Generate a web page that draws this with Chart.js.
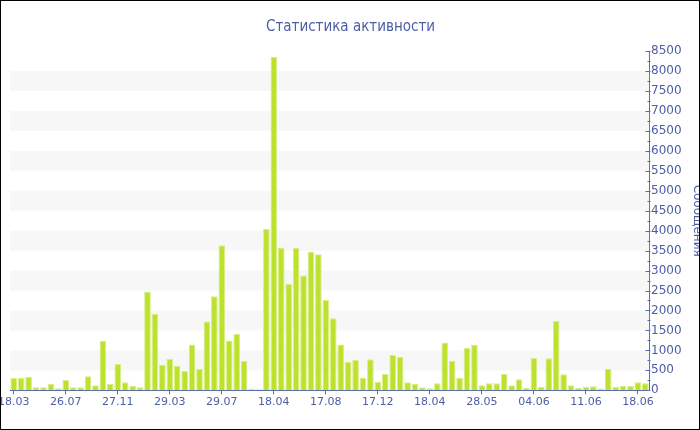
<!DOCTYPE html>
<html>
<head>
    <title>Статистика активности</title>
    <script src="https://cdn.jsdelivr.net/npm/chart.js"></script>
    <style>
        body { margin: 0; background: #fff; }
        #wrap {
            position: relative;
            width: 700px;
            height: 430px;
            border: 1px solid #000;
            box-sizing: border-box;
            overflow: hidden;
        }
        #chart { position: absolute; left: -4px; top: 0; }
    </style>
</head>
<body>
    <div id="wrap">
        <canvas id="chart" width="707" height="428"></canvas>
    </div>

    <script>
        // labels shown under every 7th bar
        const tickLabels = ['18.03', '26.07', '27.11', '29.03', '29.07', '18.04', '17.08',
                            '17.12', '18.04', '28.05', '04.06', '11.06', '18.06'];
        const labelEvery = 7;

        // messages per period
        const messages = [
            308, 308, 342, 75, 75, 167, 50, 258, 75, 75,
            350, 125, 1242, 167, 658, 200, 117, 75, 2475, 1917,
            642, 792, 617, 483, 1150, 542, 1725, 2358, 3633, 1250,
            1417, 733, 33, 25, 4050, 8350, 3575, 2667, 3567, 2875,
            3475, 3408, 2267, 1808, 1150, 708, 758, 317, 775, 217,
            408, 892, 833, 200, 158, 75, 50, 175, 1200, 742,
            308, 1058, 1133, 125, 175, 175, 408, 125, 275, 58,
            817, 83, 800, 1733, 400, 125, 58, 92, 100, 42,
            533, 92, 117, 117, 200, 175
        ];

        const yMax = 8500;
        const yStep = 500;

        const categories = messages.map((_, i) =>
            i % labelEvery === 0 ? tickLabels[i / labelEvery] : '');

        const textColor = '#4b5ea6';
        const axisColor = '#5a6cb2';

        // light grey bands every other 500
        const bands = {
            id: 'bands',
            beforeDatasetsDraw(chart) {
                const {ctx, chartArea, scales: {y}} = chart;
                ctx.save();
                ctx.fillStyle = '#f7f7f7';
                for (let v = yStep; v < yMax; v += 2 * yStep) {
                    const top = y.getPixelForValue(v + yStep);
                    const bottom = y.getPixelForValue(v);
                    ctx.fillRect(chartArea.left, top, chartArea.right - chartArea.left, bottom - top);
                }
                ctx.restore();
            }
        };

        // inward tick marks on the right axis, with minor ones
        const yTicks = {
            id: 'yTicks',
            afterDraw(chart) {
                const {ctx, scales: {y}} = chart;
                const x = Math.round(y.left) + 0.5;
                ctx.save();
                ctx.strokeStyle = axisColor;
                ctx.lineWidth = 1;
                ctx.beginPath();
                for (let v = 0; v <= yMax; v += yStep / 2) {
                    const py = Math.round(y.getPixelForValue(v)) + 0.5;
                    const len = v % yStep === 0 ? 4 : 2;
                    ctx.moveTo(x - len, py);
                    ctx.lineTo(x + 1, py);
                }
                ctx.stroke();
                ctx.restore();
            }
        };

        const chart = new Chart(document.getElementById('chart').getContext('2d'), {
            type: 'bar',
            data: {
                labels: categories,
                datasets: [{
                    label: 'Сообщения',
                    data: messages,
                    backgroundColor: '#bde22e',
                    borderColor: '#d9ee88',
                    borderWidth: 1,
                    barPercentage: 0.9,
                    categoryPercentage: 1
                }]
            },
            options: {
                responsive: false,
                animation: false,
                layout: {
                    padding: { left: 0, right: 0, top: 0, bottom: 19.5 }
                },
                plugins: {
                    legend: { display: false },
                    tooltip: { enabled: false },
                    title: {
                        display: true,
                        text: 'Статистика активности',
                        color: textColor,
                        font: { family: 'DejaVu Sans Condensed', size: 15, weight: 'normal' },
                        padding: { top: 17, bottom: 15 }
                    }
                },
                scales: {
                    x: {
                        grid: {
                            display: true,
                            drawOnChartArea: false,
                            offset: false,
                            tickLength: 4,
                            tickColor: ctx => categories[ctx.index] ? axisColor : 'rgba(0,0,0,0)'
                        },
                        border: { display: true, color: axisColor },
                        ticks: {
                            autoSkip: false,
                            maxRotation: 0,
                            minRotation: 0,
                            padding: 1,
                            color: textColor,
                            font: { family: 'DejaVu Sans', size: 11 }
                        }
                    },
                    y: {
                        position: 'right',
                        min: 0,
                        max: yMax,
                        grid: { display: false, drawTicks: false },
                        border: { display: true, color: axisColor },
                        ticks: {
                            stepSize: yStep,
                            padding: 2,
                            color: textColor,
                            font: { family: 'DejaVu Sans', size: 12 },
                            callback: v => String(v)
                        },
                        title: {
                            display: true,
                            text: 'Сообщения',
                            color: textColor,
                            font: { family: 'DejaVu Sans', size: 12 },
                            padding: { top: 0, bottom: 6 }
                        }
                    }
                }
            },
            plugins: [bands, yTicks]
        });

        // put the plot's left edge 10px into the frame; the first label is cut like in the original
        document.getElementById('chart').style.left = (9 - Math.round(chart.chartArea.left)) + 'px';
    </script>
</body>
</html>
